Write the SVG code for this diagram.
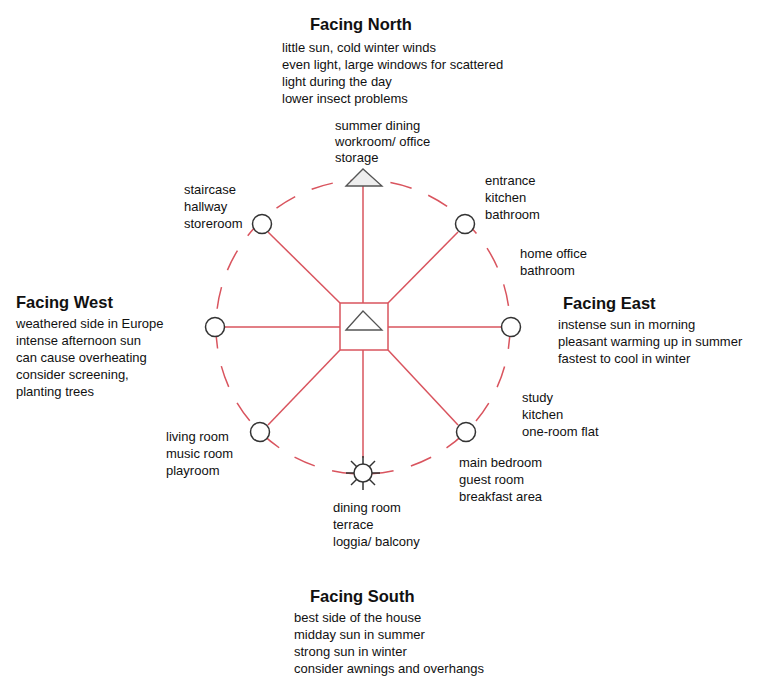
<svg xmlns="http://www.w3.org/2000/svg" width="774" height="686" viewBox="0 0 774 686">
<style>
text{font-family:"Liberation Sans",Arial,sans-serif;font-size:13px;fill:#111}
.h{font-size:16.5px;font-weight:bold}
.r{stroke:#d9545e;stroke-width:1.5;fill:none}
.n{fill:#fff;stroke:#333;stroke-width:1.5}
</style>
<rect width="774" height="686" fill="#fff"/>
<g id="connectors">
<circle class="r" cx="363" cy="327" r="147" stroke-dasharray="22,18" stroke-width="1.2" stroke="#df7d85"/>
<line class="r" x1="363" y1="186" x2="363" y2="303"/>
<line class="r" x1="363" y1="350" x2="363" y2="458"/>
<line class="r" x1="224" y1="327" x2="340" y2="327"/>
<line class="r" x1="388" y1="327" x2="502" y2="327"/>
<line class="r" x1="268" y1="232" x2="340" y2="303"/>
<line class="r" x1="458" y1="232" x2="388" y2="303"/>
<line class="r" x1="268" y1="425" x2="340" y2="350"/>
<line class="r" x1="458" y1="425" x2="388" y2="350"/>
</g>
<g id="center"><rect x="340" y="303" width="48" height="47" class="r" fill="#fff"/><polygon points="346,330 363,311 382,330" fill="none" stroke="#555" stroke-width="1.3"/></g>
<g id="north"><polygon points="346,186 363,169 382,186" fill="#eee" stroke="#555" stroke-width="1.3"/></g>
<g id="south"><g stroke="#333" stroke-width="1.5"><line x1="363" y1="456" x2="363" y2="490"/><line x1="346" y1="473" x2="380" y2="473"/><line x1="351" y1="461" x2="375" y2="485"/><line x1="375" y1="461" x2="351" y2="485"/></g><circle class="n" cx="363" cy="473" r="9"/></g>
<g id="ne"><circle class="n" cx="465" cy="224" r="9.5"/></g>
<g id="nw"><circle class="n" cx="262" cy="224" r="9.5"/></g>
<g id="e"><circle class="n" cx="511" cy="327" r="9.5"/></g>
<g id="w"><circle class="n" cx="215" cy="327" r="9.5"/></g>
<g id="sw"><circle class="n" cx="260" cy="432" r="9.5"/></g>
<g id="se"><circle class="n" cx="466" cy="432" r="9.5"/></g>
<g id="labels">
<text x="310" y="30" class="h">Facing North</text>
<text x="282" y="52">little sun, cold winter winds</text>
<text x="282" y="69">even light, large windows for scattered</text>
<text x="282" y="86">light during the day</text>
<text x="282" y="103">lower insect problems</text>
<text x="335" y="130">summer dining</text>
<text x="335" y="146">workroom/ office</text>
<text x="335" y="162">storage</text>
<text x="184" y="194">staircase</text>
<text x="184" y="211">hallway</text>
<text x="184" y="228">storeroom</text>
<text x="485" y="185">entrance</text>
<text x="485" y="202">kitchen</text>
<text x="485" y="219">bathroom</text>
<text x="520" y="258">home office</text>
<text x="520" y="275">bathroom</text>
<text x="16" y="308" class="h">Facing West</text>
<text x="16" y="328">weathered side in Europe</text>
<text x="16" y="345">intense afternoon sun</text>
<text x="16" y="362">can cause overheating</text>
<text x="16" y="379">consider screening,</text>
<text x="16" y="396">planting trees</text>
<text x="563" y="309" class="h">Facing East</text>
<text x="558" y="329">instense sun in morning</text>
<text x="558" y="346">pleasant warming up in summer</text>
<text x="558" y="363">fastest to cool in winter</text>
<text x="522" y="402">study</text>
<text x="522" y="419">kitchen</text>
<text x="522" y="436">one-room flat</text>
<text x="166" y="441">living room</text>
<text x="166" y="458">music room</text>
<text x="166" y="475">playroom</text>
<text x="459" y="467">main bedroom</text>
<text x="459" y="484">guest room</text>
<text x="459" y="501">breakfast area</text>
<text x="333" y="512">dining room</text>
<text x="333" y="529">terrace</text>
<text x="333" y="546">loggia/ balcony</text>
<text x="310" y="602" class="h">Facing South</text>
<text x="294" y="622">best side of the house</text>
<text x="294" y="639">midday sun in summer</text>
<text x="294" y="656">strong sun in winter</text>
<text x="294" y="673">consider awnings and overhangs</text>
</g>
</svg>
